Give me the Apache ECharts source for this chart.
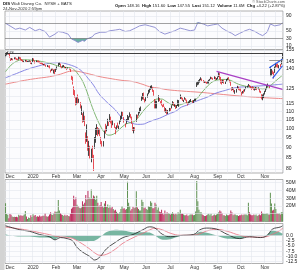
<!DOCTYPE html>
<html><head><meta charset="utf-8">
<script src="https://cdn.jsdelivr.net/npm/echarts@6/dist/echarts.min.js"></script>
<style>html,body{margin:0;padding:0;background:#fff;}#c{width:300px;height:270px;}</style>
</head><body><div id="c"></div>
<script>
const FONT = 'Liberation Sans';
const MON = ['Jan','Feb','Mar','Apr','May','Jun','Jul','Aug','Sep','Oct','Nov','Dec'];

// trading days shown
const monthDays = [
  [2019,11,[25,26,27,29]],
  [2019,12,[2,3,4,5,6,9,10,11,12,13,16,17,18,19,20,23,24,26,27,30,31]],
  [2020,1,[2,3,6,7,8,9,10,13,14,15,16,17,21,22,23,24,27,28,29,30,31]],
  [2020,2,[3,4,5,6,7,10,11,12,13,14,18,19,20,21,24,25,26,27,28]],
  [2020,3,[2,3,4,5,6,9,10,11,12,13,16,17,18,19,20,23,24,25,26,27,30,31]],
  [2020,4,[1,2,3,6,7,8,9,13,14,15,16,17,20,21,22,23,24,27,28,29,30]],
  [2020,5,[1,4,5,6,7,8,11,12,13,14,15,18,19,20,21,22,26,27,28,29]],
  [2020,6,[1,2,3,4,5,8,9,10,11,12,15,16,17,18,19,22,23,24,25,26,29,30]],
  [2020,7,[1,2,6,7,8,9,10,13,14,15,16,17,20,21,22,23,24,27,28,29,30,31]],
  [2020,8,[3,4,5,6,7,10,11,12,13,14,17,18,19,20,21,24,25,26,27,28,31]],
  [2020,9,[1,2,3,4,8,9,10,11,14,15,16,17,18,21,22,23,24,25,28,29,30]],
  [2020,10,[1,2,5,6,7,8,9,12,13,14,15,16,19,20,21,22,23,26,27,28,29,30]],
  [2020,11,[2,3,4,5,6,9,10,11,12,13,16,17,18,19,20,23,24]]
];

// daily [open, close, low, high]
const ohlcNov19 = [[149.5,150.8,149.0,151.3],[151.0,151.9,150.4,152.4],[152.0,152.3,151.2,153.0],[152.0,151.6,151.0,152.5]];
const ohlcDec19 = [[151.8,149.2,148.5,152.0],[147.8,146.9,145.8,148.0],[147.3,147.4,146.5,148.2],[147.5,147.0,146.3,147.8],[147.6,148.1,147.2,148.8],[148.0,147.6,147.1,148.9],[147.5,147.2,146.5,148.0],[147.4,147.0,146.4,147.7],[147.2,148.9,146.8,149.6],[149.0,147.9,147.3,149.3],[148.5,146.7,146.3,148.8],[146.9,146.3,145.8,147.3],[146.5,145.3,145.0,146.8],[145.3,145.7,144.8,146.0],[146.0,146.2,145.3,146.7],[146.3,145.4,145.0,146.5],[145.4,145.5,145.0,145.9],[145.6,145.7,145.1,146.0],[145.9,145.9,145.2,146.3],[145.8,143.8,143.4,146.0],[143.7,144.6,143.2,144.8]];
const ohlcJan = [[145.3,148.2,145.0,148.2],[146.4,146.5,145.5,147.9],[145.5,145.7,143.8,146.0],[145.8,145.7,144.9,146.3],[145.5,145.4,144.7,146.2],[146.0,144.8,144.3,146.2],[145.0,144.6,143.9,145.6],[144.4,144.3,143.4,144.7],[144.0,144.0,143.3,144.9],[144.0,142.7,142.6,144.4],[143.0,143.0,142.3,143.5],[143.3,142.5,142.1,143.6],[142.2,141.7,141.2,142.6],[141.8,141.9,141.0,142.6],[141.6,141.6,140.7,142.1],[141.8,139.9,139.4,142.3],[138.0,138.2,136.8,138.9],[138.5,139.6,138.0,140.0],[139.7,138.6,138.3,140.2],[137.6,138.9,136.0,139.0],[139.0,138.3,135.5,139.4]];
const ohlcFeb = [[138.6,138.4,137.2,139.8],[139.5,140.9,139.0,141.5],[143.7,143.8,141.6,144.4],[144.0,143.8,142.6,144.8],[143.5,141.2,140.8,143.7],[141.0,140.5,139.7,141.3],[141.0,141.4,140.5,142.3],[142.0,141.6,141.0,142.6],[141.2,140.3,139.9,141.6],[140.3,140.6,139.8,141.0],[140.0,139.6,138.8,140.2],[140.0,140.1,139.4,140.6],[139.7,139.8,138.9,140.3],[139.3,137.7,137.2,139.5],[133.0,132.6,131.3,134.5],[133.0,128.2,127.9,133.7],[121.5,125.8,120.7,126.6],[122.0,119.7,119.0,124.0],[114.9,117.7,113.9,119.0]];
const ohlcMar = [[118.2,118.9,114.5,119.1],[119.0,116.0,115.0,121.0],[117.5,118.0,115.5,118.2],[115.5,113.0,112.0,116.0],[110.0,113.6,108.0,113.8],[105.0,106.0,103.5,109.0],[108.5,110.0,104.0,110.5],[107.0,103.0,101.5,107.5],[95.0,92.7,92.0,98.0],[97.0,102.0,93.0,102.5],[92.0,90.0,88.5,96.0],[91.0,92.8,86.0,93.5],[88.5,87.3,84.5,91.0],[86.0,87.7,83.0,89.5],[89.0,85.8,85.0,91.0],[84.8,85.0,79.1,86.5],[90.5,94.6,89.5,95.5],[96.0,98.4,92.5,100.5],[98.3,101.2,96.6,102.6],[98.0,98.2,96.0,101.0],[98.6,99.5,97.0,100.2],[99.5,96.6,96.0,100.0]];
const ohlcApr = [[94.5,92.5,91.8,95.5],[92.5,92.0,90.6,93.5],[91.5,92.8,90.6,93.4],[95.5,98.7,94.5,99.0],[101.5,98.0,97.5,102.8],[99.5,101.2,98.6,101.8],[103.0,105.0,101.5,105.7],[103.0,103.6,101.6,104.0],[105.0,107.5,104.0,108.5],[106.0,104.0,103.0,107.0],[104.3,101.2,100.5,105.0],[104.0,103.3,102.0,105.0],[102.5,101.4,100.5,103.2],[100.3,98.0,97.0,101.0],[100.0,101.3,99.3,101.9],[101.5,101.1,100.5,103.5],[101.5,101.2,99.8,101.8],[103.0,104.0,102.5,105.0],[106.5,104.5,104.0,107.5],[106.5,110.0,105.5,110.3],[109.0,108.2,107.3,110.0]];
const ohlcMay = [[106.0,104.0,103.5,106.8],[102.5,101.9,100.8,103.0],[103.0,104.7,102.8,105.6],[107.0,105.2,104.8,108.0],[106.0,105.5,105.0,107.2],[107.0,109.0,106.6,109.6],[108.0,106.3,106.0,108.5],[106.5,102.9,102.8,107.0],[102.5,99.9,98.8,103.0],[98.5,100.7,97.5,101.0],[99.5,100.0,98.9,100.9],[104.5,107.4,104.0,108.3],[107.0,106.4,106.0,108.1],[108.0,109.6,107.6,109.9],[109.5,111.0,109.0,112.4],[111.0,112.8,110.3,113.2],[118.0,118.0,116.8,120.0],[120.0,121.5,117.7,122.0],[122.0,118.1,117.5,122.3],[117.5,117.3,115.8,118.1]];
const ohlcJun = [[117.0,118.8,116.6,119.2],[119.5,121.0,118.9,121.7],[121.5,123.7,121.2,124.2],[123.5,124.3,122.3,125.3],[126.5,124.8,124.2,127.0],[125.5,126.9,124.7,127.4],[125.5,123.5,122.8,126.0],[123.5,121.0,120.2,124.0],[117.0,112.7,112.0,118.0],[116.5,115.0,112.0,117.0],[112.5,116.4,112.0,116.8],[119.5,118.0,116.2,120.5],[118.2,117.0,116.6,118.7],[116.0,116.0,114.9,116.6],[117.3,114.2,113.8,117.5],[114.0,113.9,112.7,114.3],[114.3,113.6,112.9,115.0],[112.9,110.2,109.8,113.0],[110.0,112.0,109.3,112.2],[111.0,108.6,108.3,111.3],[108.8,110.7,108.5,111.0],[110.5,111.5,110.0,112.3]];
const ohlcJul = [[111.5,111.0,110.5,112.2],[113.0,113.0,112.0,114.0],[114.5,116.0,114.0,116.6],[115.0,114.0,113.7,116.0],[114.0,114.5,113.0,114.7],[114.0,113.2,111.7,114.3],[112.8,113.7,112.2,114.0],[114.5,113.9,113.5,117.5],[113.5,117.0,113.0,117.3],[118.5,120.0,118.0,121.0],[119.0,118.2,117.8,119.4],[118.3,117.0,116.7,118.8],[117.0,117.2,116.0,117.5],[118.0,118.6,117.6,119.2],[118.3,117.2,116.9,118.6],[117.1,115.5,115.1,117.6],[114.5,115.2,113.9,115.6],[115.5,116.0,114.9,116.4],[115.8,116.7,115.5,117.3],[116.8,117.6,116.1,118.0],[116.5,116.6,115.5,117.1],[117.0,116.9,115.5,117.3]];
const ohlcAug = [[117.3,117.6,116.6,118.2],[117.8,117.6,116.8,118.3],[127.5,128.5,126.2,129.5],[128.3,129.1,127.4,130.0],[129.0,129.9,127.9,131.0],[130.5,130.8,129.3,132.0],[132.5,131.5,131.0,133.2],[131.8,131.0,130.4,132.3],[130.8,129.7,129.3,131.2],[129.8,130.2,129.0,130.5],[130.0,129.6,129.0,130.4],[129.4,128.8,128.4,129.9],[129.0,129.6,128.6,130.5],[129.0,131.0,128.6,131.3],[131.5,131.5,130.6,132.0],[132.5,132.8,131.7,133.6],[132.8,132.3,131.8,133.3],[132.5,132.0,131.3,132.8],[132.3,133.3,131.8,133.9],[133.3,131.8,131.4,133.5],[132.0,131.9,131.2,132.6]];
const ohlcSep = [[132.5,133.1,131.7,133.8],[133.6,136.0,133.3,137.0],[135.5,133.0,131.6,136.3],[133.0,132.0,128.6,133.5],[130.5,128.6,127.9,131.0],[129.8,130.0,129.0,131.3],[130.5,129.0,128.5,131.4],[129.6,129.4,128.3,130.3],[130.5,131.0,129.8,132.0],[131.5,132.1,131.0,132.8],[132.3,132.0,131.5,133.3],[130.5,130.0,129.4,131.2],[130.0,127.7,127.0,130.3],[125.5,125.0,123.5,126.0],[125.3,125.2,124.0,126.0],[125.0,122.7,122.5,125.3],[122.3,123.0,121.5,124.0],[122.8,124.6,122.3,124.9],[125.8,126.1,125.0,127.0],[126.0,124.3,124.0,126.4],[124.5,124.1,123.7,125.2]];
const ohlcOct = [[124.8,123.7,123.0,125.3],[121.5,121.3,120.4,122.8],[121.8,123.0,121.6,123.4],[123.0,122.3,121.8,124.3],[123.2,124.4,123.0,124.7],[125.0,126.0,124.6,126.4],[126.3,126.7,125.8,127.1],[127.0,127.4,126.5,128.3],[127.2,126.4,126.0,127.6],[126.5,125.8,125.3,127.0],[124.8,125.6,124.2,126.0],[126.0,125.2,124.9,126.7],[125.5,124.3,124.0,126.0],[124.5,124.5,123.7,125.3],[124.5,125.5,124.2,126.2],[125.3,124.9,124.0,125.8],[125.2,125.4,124.5,125.9],[124.5,123.0,122.4,125.0],[123.0,122.5,121.9,123.5],[120.8,118.4,117.8,121.2],[118.6,119.5,117.2,121.0],[120.0,121.3,118.6,121.8]];
const ohlcNov20 = [[122.0,122.6,121.0,123.5],[123.5,124.5,122.8,125.2],[125.5,126.9,124.5,127.5],[127.8,127.3,126.3,128.6],[126.8,126.5,125.2,127.3],[140.0,135.5,134.0,141.2],[136.0,137.4,134.3,139.5],[137.0,136.4,135.5,138.3],[136.0,134.5,132.3,137.3],[139.0,139.5,136.5,141.4],[143.0,142.8,140.6,144.5],[142.0,141.8,140.8,143.5],[142.0,141.0,140.5,143.8],[140.5,142.0,139.6,142.5],[142.0,141.9,141.0,143.4],[143.5,146.9,143.0,147.5],[148.16,151.12,147.55,151.6]];

// daily volume, millions
const volNov19 = [23.5,9.8,8.6,4.3];
const volDec19 = [9.5,8.7,6.5,5.8,6.2,5.8,6.0,5.5,8.6,7.4,8.0,7.2,7.6,9.0,13.4,6.5,3.3,5.2,4.6,7.9,5.8];
const volJan = [9.2,7.3,8.5,6.0,6.7,6.2,7.8,6.3,6.6,7.5,7.5,10.5,6.9,6.0,6.6,8.9,11.8,9.0,8.5,10.6,13.0];
const volFeb = [12.3,13.0,27.5,14.0,10.8,8.9,8.2,7.0,8.7,7.0,8.3,7.1,6.9,10.0,16.5,18.0,33.0,28.0,31.0];
const volMar = [21.5,20,17.6,17,18,26,22,24,34,28,39.5,31,29.5,41,30,33.5,32,28,33,24,20,21];
const volApr = [25,20,18,23,26.5,18.5,22,17.5,20.5,17,19,16,14,15,12.5,11,9.5,12,16,20,16.5];
const volMay = [17,15,16,51,24,20,14,16,19,17,18,39,18,16,14,14,28,25,17,18];
const volJun = [16,15,20,19,26,24,17,17,24,22,15,18,13,12,15,11,9,14,10,12,11,10];
const volJul = [9,10,12,10,9,10,9,12,11,15,10,10,9,8,8,9,7,8,9,9,9,8];
const volAug = [8.5,13,52,26,15,12,12,9,8,7,7,8,9,10,8,10,7,8,9,8,9];
const volSep = [10,12,14,13,11,8,8,7,9,8,8,9,14,12,8,9,9,8,8,7,8];
const volOct = [8,9,8,9,9,9,8,24,12,9,8,8,9,8,9,7,8,9,8,13,11,10];
const volNov20 = [10,10,11,9,9,37,23,14,15,23,16,11,10,11,9,12,11.6];

// indicator lines: [day index, value]
const ma20 = [[0,137.4],[5,142.5],[10,145.5],[15,146.8],[20,146.8],[25,146.3],[30,145.8],[35,145.0],[40,144.0],[45,142.6],[50,141.3],[55,140.7],[60,140.2],[63,138.5],[66,135.5],[70,130.5],[74,123.0],[78,114.5],[82,107.5],[86,102.0],[90,98.0],[94,96.5],[98,97.0],[102,98.8],[106,101.0],[110,102.8],[114,103.5],[118,104.5],[122,107.5],[126,111.0],[130,114.0],[134,116.5],[138,118.0],[142,118.0],[146,116.5],[150,114.8],[155,113.8],[160,114.5],[165,115.8],[170,116.5],[174,118.2],[178,121.8],[182,125.3],[186,128.5],[190,130.5],[194,131.3],[198,131.6],[202,131.5],[206,130.5],[210,128.8],[214,127.6],[218,126.8],[222,126.0],[226,125.6],[230,125.3],[234,124.9],[238,125.6],[242,127.8],[246,130.6],[250,133.3],[252,134.73]];
const ma50 = [[0,132.8],[10,136.0],[20,139.3],[30,141.8],[40,144.0],[50,144.5],[55,143.6],[60,142.3],[65,140.5],[70,137.3],[75,132.5],[80,127.5],[85,121.5],[90,117.5],[95,114.2],[100,111.0],[105,107.0],[110,104.5],[115,103.2],[120,102.5],[125,102.6],[130,103.8],[135,105.0],[140,106.0],[145,107.5],[150,109.0],[155,110.3],[160,112.8],[165,114.0],[170,115.5],[175,117.0],[180,118.3],[185,119.7],[190,121.5],[195,122.8],[200,123.8],[205,125.0],[210,125.8],[215,126.2],[220,126.3],[225,126.6],[230,126.9],[235,127.1],[240,127.4],[245,127.7],[252,128.18]];
const ma200 = [[0,128.2],[10,129.8],[20,131.3],[30,132.5],[40,133.6],[50,135.5],[56,137.2],[61,138.0],[66,137.6],[72,136.5],[78,135.3],[86,133.6],[95,132.3],[105,131.0],[116,130.0],[125,128.0],[131,126.4],[140,125.3],[147,124.3],[160,123.4],[177,122.5],[190,121.6],[207,120.4],[220,119.6],[235,118.9],[252,118.26]];
const rsi = [[0,70],[4,63],[9,54],[13,57],[18,52],[22,59],[27,50],[31,54],[36,48],[40,33],[45,41],[48,48],[52,46],[57,41],[60,28],[63,24],[66,19],[70,24],[72,22],[74,28],[79,34],[81,41],[86,46],[91,46],[95,50],[100,52],[104,54],[109,48],[113,50],[118,57],[122,63],[127,66],[131,63],[136,59],[140,48],[145,41],[150,46],[154,50],[159,57],[163,54],[168,50],[172,52],[175,72],[180,68],[184,63],[189,66],[193,68],[197,57],[201,50],[206,43],[209,37],[213,43],[218,50],[222,54],[227,48],[231,41],[234,37],[238,46],[241,68],[245,63],[250,66],[252,71.33]];
const macd = [[0,4.8],[4,4.2],[13,2.9],[22,2.1],[31,0.6],[40,-0.5],[45,-2.0],[50,-0.9],[56,-1.4],[61,-2.5],[65,-5.6],[70,-7.9],[77,-10.2],[81,-11.8],[86,-10.2],[92,-6.3],[100,-3.2],[107,-0.9],[116,0.6],[125,2.9],[131,4.3],[136,3.7],[143,0.6],[150,-0.5],[159,0.1],[171,0.6],[177,2.9],[183,3.7],[192,3.2],[202,0.6],[213,-1.4],[222,-0.5],[232,-0.9],[238,0.1],[243,3.2],[250,4.2],[252,4.79]];
const signal = [[0,4.2],[13,3.3],[22,2.5],[31,1.5],[40,0.5],[45,-0.2],[50,-0.6],[56,-0.8],[61,-1.3],[65,-2.4],[70,-4.0],[77,-6.6],[81,-8.3],[86,-9.5],[92,-9.0],[100,-6.5],[107,-3.6],[116,-1.0],[125,1.2],[131,2.8],[136,3.6],[143,2.8],[150,1.2],[159,0.2],[171,0.3],[177,1.0],[183,2.3],[192,3.1],[202,2.1],[213,0.2],[222,-0.6],[232,-0.7],[238,-0.4],[243,0.7],[250,2.6],[252,3.72]];
const hist = [[0,0.6],[13,-0.4],[22,-0.4],[31,-0.9],[40,-1.0],[45,-1.8],[50,-0.3],[56,-0.6],[61,-1.2],[65,-2.2],[70,-2.8],[77,-2.6],[81,-2.4],[86,-0.7],[92,1.8],[100,2.9],[107,2.6],[116,1.6],[125,1.7],[131,1.5],[136,0.1],[143,-2.0],[150,-1.7],[159,-0.1],[171,0.3],[177,1.9],[183,1.4],[192,0.1],[202,-1.5],[213,-1.6],[222,0.1],[232,-0.2],[238,0.5],[243,2.5],[250,1.6],[252,1.07]];

// drawn lines: [day index, price]
const resistance = 152;
const trendPurple = [[192,137.6],[252,124.5]];
const wedgeUpper = [[240,140.4],[252,147.3]];
const wedgeLower = [[243,132.4],[252,142.0]];
const wedgeTop = [[240,146.2],[252,146.2]];

// tick labels
const priceTicks = [80,85,90,95,100,105,110,115,120,125,130,135,140,145,150,155];
const priceTickLabels = [80,85,90,95,100,105,110,115,125,140,145,155];
const rsiTicks = [10,30,50,70,90];
const rsiTickLabels = [10,30,50,90];
const volTicks = [10,20,30,40,50];
const volTickLabels = [20,30,40,50];
const macdTicks = [2.5,0,-2.5,-5,-7.5,-10,-12.5];
const macdTickLabels = [0,-2.5,-5,-7.5,-10,-12.5];

const last = {price:151.12, ma20:134.73, ma50:128.18, ma200:118.26, rsi:71.33, vol:11.6, macd:4.79, signal:3.72, hist:1.07};

// ---------- build ----------
const dates = [], gridCols = new Set(), monthStart = new Set(), labelOf = {};
monthDays.forEach(([y,m,ds],k) => {
  const base = dates.length;
  ds.forEach((d,j) => {
    const s = y + '-' + String(m).padStart(2,'0') + '-' + String(d).padStart(2,'0');
    dates.push(s);
    if (k > 0 && j === 0) { monthStart.add(base + j); gridCols.add(base + j); labelOf[s] = m === 1 ? String(y) : MON[m-1]; }
  });
  const mid = ds.findIndex(d => d >= 15);
  if (k > 0 && mid >= 0) gridCols.add(base + mid);
});
const ohlc = [].concat(ohlcNov19,ohlcDec19,ohlcJan,ohlcFeb,ohlcMar,ohlcApr,ohlcMay,ohlcJun,ohlcJul,ohlcAug,ohlcSep,ohlcOct,ohlcNov20);
const vols = [].concat(volNov19,volDec19,volJan,volFeb,volMar,volApr,volMay,volJun,volJul,volAug,volSep,volOct,volNov20);

const UPC = '#141414', DNC = '#e3212b';
const candleData = ohlc.map((v,i) => {
  const prev = i ? ohlc[i-1][1] : v[0];
  const c = v[1] >= prev ? UPC : DNC;
  return {value: v, itemStyle: {color: c, color0: c, borderColor: c, borderColor0: c}};
});
const volData = vols.map((v,i) => {
  const prev = i ? ohlc[i-1][1] : ohlc[i][0];
  return {value: v, itemStyle: {color: ohlc[i][1] >= prev ? '#5e9152' : '#bd2f5e'}};
});
const rsiOver = rsi.map(([i,v]) => [i, Math.max(v,70)]);
const rsiUnder = rsi.map(([i,v]) => [i, Math.min(v,30)]);

const GRIDC = '#e2e5ec';
function tickLines(vals, labeled, fmt, dark) {
  return vals.map(v => ({
    yAxis: v,
    lineStyle: {color: (dark && dark.includes(v)) ? '#7a7a7a' : GRIDC, width: (dark && dark.includes(v)) ? 0.7 : 0.6, type: 'solid'},
    label: labeled.includes(v)
      ? {show: true, position: 'end', distance: 3, formatter: fmt(v), fontSize: 5, color: '#222', fontFamily: FONT}
      : {show: false}
  }));
}
function holder(xi, yi, data, z) {
  return {type: 'line', xAxisIndex: xi, yAxisIndex: yi, data: [], silent: true, z: z || 1,
    markLine: {silent: true, symbol: ['none','none'], animation: false, data: data}};
}
function hl(v, text, bg, bd, col, off) {
  return {yAxis: v, lineStyle: {opacity: 0, width: 0},
    label: {show: true, position: 'end', distance: 1.5, formatter: text, fontSize: 5, color: col,
      backgroundColor: bg, borderColor: bd, borderWidth: 0.6, padding: [0.5,1,0,1], offset: off || [0,0], fontFamily: FONT}};
}
function seg(pts, color, w) {
  return [{coord: pts[0], lineStyle: {color: color, width: w, type: 'solid'}}, {coord: pts[1]}];
}

const grids = [
  {left: 5, right: 17, top: 11, height: 38.5},
  {left: 5, right: 17, top: 50, height: 123},
  {left: 5, right: 17, top: 179.5, height: 42},
  {left: 5, right: 17, top: 223.5, height: 42}
].map(g => Object.assign(g, {show: true, backgroundColor: '#fcfcfe', borderColor: '#9c9c9c', borderWidth: 0.8, containLabel: false}));

function xAx(i, labels) {
  return {type: 'category', gridIndex: i, data: dates, boundaryGap: true,
    axisLine: {show: false}, axisTick: {show: false},
    axisLabel: labels ? {show: true, interval: (idx) => monthStart.has(idx), formatter: v => labelOf[v] || '',
      fontSize: 5, color: '#333', margin: 1.5, fontFamily: FONT} : {show: false},
    splitLine: {show: true, interval: (idx) => gridCols.has(idx), lineStyle: {color: GRIDC, width: 0.6}}};
}
function yAx(i, o) {
  return Object.assign({gridIndex: i, position: 'right', axisLine: {show: false}, axisTick: {show: false},
    axisLabel: {show: false}, splitLine: {show: false}}, o);
}

const option = {
  animation: false,
  backgroundColor: '#ffffff',
  textStyle: {fontFamily: FONT},
  grid: grids,
  xAxis: [xAx(0,false), xAx(1,true), xAx(2,false), xAx(3,true)],
  yAxis: [
    yAx(0, {type: 'value', min: 0, max: 102.7}),
    yAx(1, {type: 'log', min: 78.2, max: 155, logBase: 10}),
    yAx(2, {type: 'value', min: 0, max: 54}),
    yAx(3, {type: 'value', min: -13.5, max: 5.93})
  ],
  graphic: [
    {type: 'rect', shape: {x: 0, y: 49.5, width: 4.5, height: 220.5}, style: {fill: '#d3d3d3'}, silent: true},
    {type: 'text', left: 3, top: 2, style: {text: '{b|DIS} Walt Disney Co.  NYSE + BATS', fontSize: 4.3, fontFamily: FONT, fill: '#222',
      rich: {b: {fontWeight: 'bold', fontSize: 4.3, fontFamily: FONT, fill: '#111'}}}},
    {type: 'text', left: 3, top: 6.8, style: {text: '24-Nov-2020 2:59pm', fontSize: 4.2, fontFamily: FONT, fill: '#333'}},
    {type: 'text', right: 15, top: 0, style: {text: '© StockCharts.com', fontSize: 3.8, fontFamily: FONT, fill: '#555'}},
    {type: 'text', right: 15, top: 3.6, style: {text: '{b|Open} 148.16  {b|High} 151.60  {b|Low} 147.55  {b|Last} 151.12  {b|Volume} 11.6M  {b|Chg} +4.22 (+2.87%)',
      fontSize: 4.2, fontFamily: FONT, fill: '#222', rich: {b: {fontWeight: 'bold', fontSize: 4.2, fontFamily: FONT, fill: '#111'}}}},
    {type: 'text', left: 6, top: 50.8, style: {text: '▪DIS', fontSize: 3.8, fontFamily: FONT, fill: '#222'}}
  ],
  series: [
    // RSI
    holder(0, 0, tickLines(rsiTicks, rsiTickLabels, v => String(v), [30,70])),
    {type: 'line', xAxisIndex: 0, yAxisIndex: 0, data: rsiOver, showSymbol: false, silent: true, z: 2,
      lineStyle: {width: 0}, areaStyle: {color: '#5aa897', opacity: 0.9, origin: 70}},
    {type: 'line', xAxisIndex: 0, yAxisIndex: 0, data: rsiUnder, showSymbol: false, silent: true, z: 2,
      lineStyle: {width: 0}, areaStyle: {color: '#5aa897', opacity: 0.9, origin: 30}},
    {type: 'line', xAxisIndex: 0, yAxisIndex: 0, data: rsi, showSymbol: false, silent: true, z: 3,
      lineStyle: {color: '#8a8ad0', width: 0.9}},
    holder(0, 0, [hl(last.rsi, String(last.rsi), '#e6e6ee', '#8a8ad0', '#222')], 6),
    // price panel
    holder(1, 1, tickLines(priceTicks, priceTickLabels, v => String(v))),
    {type: 'line', xAxisIndex: 1, yAxisIndex: 1, data: ma200, showSymbol: false, smooth: 0.4, silent: true, z: 3,
      lineStyle: {color: '#ea7d7d', width: 0.9}},
    {type: 'line', xAxisIndex: 1, yAxisIndex: 1, data: ma50, showSymbol: false, smooth: 0.4, silent: true, z: 3,
      lineStyle: {color: '#7b7be0', width: 0.9}},
    {type: 'line', xAxisIndex: 1, yAxisIndex: 1, data: ma20, showSymbol: false, smooth: 0.4, silent: true, z: 3,
      lineStyle: {color: '#70ae62', width: 0.9}},
    {type: 'candlestick', xAxisIndex: 1, yAxisIndex: 1, data: candleData, barWidth: 1.2, silent: true, z: 4,
      itemStyle: {borderWidth: 0.8}},
    holder(1, 1, [
      {yAxis: resistance, lineStyle: {color: '#2a2a2a', width: 0.9, type: 'solid'}, label: {show: false}},
      seg(trendPurple, '#a93fc4', 1.2),
      seg(wedgeUpper, '#2a5be8', 1.2),
      seg(wedgeLower, '#2a5be8', 1.2),
      seg(wedgeTop, '#7a7a7a', 0.8)
    ], 5),
    holder(1, 1, [
      hl(last.price, last.price.toFixed(2), '#f6efa0', '#6a6a3a', '#222'),
      hl(last.ma20, last.ma20.toFixed(2), '#e3f1dc', '#70ae62', '#3c7a30'),
      hl(last.ma50, last.ma50.toFixed(2), '#e2e2f8', '#7b7be0', '#3c3ca0'),
      hl(last.ma200, last.ma200.toFixed(2), '#fbe2e2', '#ea7d7d', '#b03030')
    ], 7),
    // volume
    holder(2, 2, tickLines(volTicks, volTickLabels, v => v + 'M')),
    {type: 'bar', xAxisIndex: 2, yAxisIndex: 2, data: volData, barWidth: 0.9, silent: true, z: 3},
    holder(2, 2, [hl(last.vol, last.vol + 'M', '#e4e4e4', '#777', '#222')], 6),
    // MACD
    holder(3, 3, tickLines(macdTicks, macdTickLabels, v => v.toFixed(1))),
    {type: 'line', xAxisIndex: 3, yAxisIndex: 3, data: hist, showSymbol: false, smooth: 0.3, silent: true, z: 2,
      lineStyle: {width: 0}, areaStyle: {color: '#5fa891', opacity: 0.85, origin: 0}},
    {type: 'line', xAxisIndex: 3, yAxisIndex: 3, data: signal, showSymbol: false, smooth: 0.4, silent: true, z: 3,
      lineStyle: {color: '#e86f7e', width: 0.8}},
    {type: 'line', xAxisIndex: 3, yAxisIndex: 3, data: macd, showSymbol: false, smooth: 0.4, silent: true, z: 4,
      lineStyle: {color: '#222', width: 0.8}},
    holder(3, 3, [
      hl(last.macd, last.macd.toFixed(2), '#e8e8e8', '#333', '#111', [0,-2]),
      hl(last.signal, last.signal.toFixed(2), '#fce2e6', '#e86f7e', '#a02a3a', [0,1.5]),
      hl(last.hist, last.hist.toFixed(2), '#dcefe7', '#5fa891', '#2d6f58', [0,1])
    ], 6)
  ]
};
const chart = echarts.init(document.getElementById('c'), null, {renderer: 'canvas'});
chart.setOption(option);
</script></body></html>
